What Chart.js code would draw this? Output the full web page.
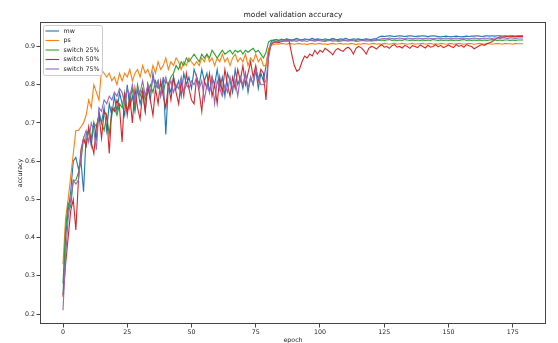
<!DOCTYPE html>
<html>
<head>
<meta charset="utf-8">
<title>model validation accuracy</title>
<script src="https://cdn.jsdelivr.net/npm/chart.js@4/dist/chart.umd.min.js"></script>
<style>
    html, body { margin: 0; padding: 0; background: #fff; }
    #wrap { width: 558px; height: 343px; }
</style>
</head>
<body>
<div id="wrap"><canvas id="accChart" width="558" height="343"></canvas></div>
<script>
// Data
const epochs = Array.from({ length: 180 }, (_, i) => i);

const seriesLabels = ['mw', 'ps', 'switch 25%', 'switch 50%', 'switch 75%'];

const xTicks = [0, 25, 50, 75, 100, 125, 150, 175];
const yTicks = [0.2, 0.3, 0.4, 0.5, 0.6, 0.7, 0.8, 0.9];

const mwAcc = [
    .25, .40, .47, .52, .60, .61, .58, .60, .52, .67,
    .68, .64, .70, .66, .73, .70, .74, .68, .75, .72,
    .77, .73, .78, .75, .72, .80, .74, .77, .73, .79,
    .75, .78, .73, .80, .76, .83, .79, .81, .77, .82,
    .67, .80, .78, .82, .79, .81, .77, .83, .80, .82,
    .79, .84, .82, .80, .84, .81, .83, .78, .82, .80,
    .84, .79, .82, .77, .83, .81, .78, .84, .80, .82,
    .79, .83, .78, .82, .80, .84, .79, .83, .81, .85,
    .89, .912, .916, .918, .915, .919, .917, .920, .918, .916,
    .919, .921, .918, .917, .920, .918, .919, .921, .918, .920,
    .919, .917, .920, .918, .919, .921, .919, .918, .920, .919,
    .921, .919, .918, .920, .919, .920, .918, .919, .920, .919,
    .918, .920, .921, .925, .927, .926, .927, .928, .927, .926,
    .927, .928, .927, .926, .927, .928, .927, .926, .927, .927,
    .928, .927, .926, .927, .928, .927, .926, .925, .926, .927,
    .926, .925, .926, .927, .926, .925, .926, .927, .926, .927,
    .927, .928, .927, .926, .927, .928, .927, .928, .927, .928,
    .928, .927, .928, .927, .928, .928, .927, .928, .928, .928
];

const psAcc = [
    .33, .45, .50, .56, .62, .68, .68, .69, .70, .72,
    .76, .74, .80, .78, .76, .84, .83, .82, .83, .81,
    .82, .80, .83, .81, .83, .82, .84, .81, .83, .84,
    .82, .85, .83, .84, .82, .85, .83, .86, .84, .85,
    .87, .84, .86, .85, .87, .86, .84, .86, .85, .87,
    .86, .85, .86, .85, .87, .86, .88, .86, .87, .85,
    .87, .86, .88, .86, .87, .85, .87, .88, .86, .87,
    .86, .88, .85, .87, .86, .88, .86, .87, .85, .85,
    .895, .903, .905, .907, .906, .908, .907, .906, .908, .907,
    .906, .907, .908, .906, .907, .905, .907, .908, .906, .907,
    .908, .906, .907, .905, .907, .908, .906, .907, .908, .906,
    .907, .906, .908, .907, .905, .907, .906, .908, .907, .906,
    .907, .908, .906, .907, .906, .908, .907, .906, .907, .908,
    .906, .907, .908, .907, .906, .907, .908, .906, .907, .907,
    .908, .906, .907, .908, .906, .907, .906, .908, .907, .906,
    .907, .908, .906, .907, .908, .907, .906, .907, .908, .907,
    .906, .907, .908, .907, .906, .908, .907, .906, .907, .908,
    .907, .906, .908, .907, .907, .906, .908, .907, .907, .907
];

const switch25Acc = [
    .28, .42, .49, .48, .55, .55, .57, .60, .66, .64,
    .68, .66, .70, .69, .72, .70, .68, .72, .67, .73,
    .74, .72, .75, .74, .78, .73, .76, .79, .74, .80,
    .77, .79, .76, .78, .80, .78, .81, .79, .80, .78,
    .81, .80, .82, .83, .85, .84, .86, .85, .87, .86,
    .87, .88, .87, .86, .88, .87, .88, .87, .89, .88,
    .87, .88, .89, .88, .885, .89, .88, .89, .885, .89,
    .88, .89, .885, .89, .895, .885, .89, .88, .87, .885,
    .912, .916, .917, .918, .916, .918, .917, .919, .918, .917,
    .918, .917, .916, .918, .917, .919, .918, .916, .917, .918,
    .917, .918, .916, .917, .919, .917, .918, .916, .917, .918,
    .916, .917, .918, .917, .916, .918, .917, .916, .918, .917,
    .916, .917, .918, .916, .917, .916, .917, .918, .916, .917,
    .916, .917, .916, .918, .917, .916, .917, .916, .917, .916,
    .917, .916, .917, .916, .918, .917, .916, .917, .916, .917,
    .916, .917, .916, .917, .916, .917, .918, .916, .917, .916,
    .917, .916, .917, .916, .917, .916, .917, .918, .917, .916,
    .917, .916, .917, .917, .916, .917, .916, .917, .917, .917
];

const switch50Acc = [
    .245, .33, .40, .47, .50, .42, .55, .63, .66, .64,
    .69, .65, .62, .69, .72, .66, .73, .72, .62, .74,
    .73, .76, .74, .65, .78, .72, .77, .70, .79, .74,
    .71, .78, .73, .80, .76, .72, .79, .75, .81, .77,
    .74, .80, .76, .82, .78, .75, .81, .77, .83, .79,
    .76, .75, .82, .78, .73, .81, .79, .83, .77, .80,
    .75, .82, .78, .84, .80, .77, .82, .79, .84, .81,
    .85, .80, .83, .86, .82, .85, .81, .84, .83, .76,
    .88, .905, .91, .912, .91, .913, .915, .914, .915, .88,
    .85, .835, .84, .86, .875, .87, .88, .875, .89, .88,
    .89, .885, .895, .89, .885, .878, .89, .895, .89, .887,
    .895, .898, .892, .88, .895, .90, .897, .89, .88, .895,
    .90, .898, .893, .90, .905, .898, .90, .895, .902, .905,
    .898, .90, .896, .903, .90, .895, .902, .90, .897, .904,
    .90, .896, .903, .898, .90, .905, .899, .903, .897, .90,
    .904, .90, .897, .905, .90, .903, .898, .905, .902, .90,
    .894, .898, .902, .905, .903, .907, .91, .912, .918, .922,
    .925, .924, .925, .926, .925, .926, .925, .926, .926, .926
];

const switch75Acc = [
    .21, .35, .45, .50, .55, .54, .55, .62, .66, .68,
    .65, .70, .68, .63, .74, .73, .76, .75, .77, .76,
    .78, .77, .79, .78, .75, .79, .77, .80, .76, .79,
    .78, .81, .77, .80, .78, .82, .79, .81, .77, .80,
    .82, .79, .81, .78, .80, .79, .82, .78, .80, .79,
    .81, .80, .82, .79, .81, .76, .80, .78, .82, .75,
    .81, .79, .77, .80, .78, .82, .79, .81, .77, .82,
    .80, .83, .79, .82, .80, .84, .82, .80, .80, .81,
    .87, .908, .912, .914, .913, .915, .914, .916, .915, .914,
    .915, .913, .916, .914, .915, .913, .916, .915, .914, .916,
    .915, .914, .913, .915, .916, .914, .915, .913, .914, .916,
    .915, .914, .916, .915, .913, .914, .915, .916, .914, .915,
    .914, .916, .915, .918, .920, .921, .920, .922, .921, .920,
    .921, .922, .921, .920, .922, .921, .920, .921, .922, .921,
    .920, .921, .922, .921, .920, .921, .922, .920, .921, .922,
    .921, .920, .921, .922, .921, .920, .922, .921, .920, .921,
    .922, .921, .920, .921, .922, .921, .922, .921, .922, .922,
    .921, .922, .922, .921, .922, .922, .921, .922, .922, .922
];

// Styles
const lineColors = ['#1f77b4', '#ff7f0e', '#2ca02c', '#d62728', '#9467bd'];
const fontFamily = '"DejaVu Sans", sans-serif';
const textColor = '#222';
const frameColor = '#444';


// Frame, title, axis labels and legend drawn like matplotlib
const decorPlugin = {
    id: 'decor',
    afterDatasetsDraw(chart) {
        const ctx = chart.ctx;
        const a = chart.chartArea;
        const cx = (a.left + a.right) / 2;

        ctx.save();

        // frame
        ctx.strokeStyle = frameColor;
        ctx.lineWidth = 1;
        ctx.strokeRect(a.left + 0.5, a.top + 0.5, a.right - a.left - 1, a.bottom - a.top - 1);

        // title
        ctx.fillStyle = textColor;
        ctx.textAlign = 'center';
        ctx.textBaseline = 'middle';
        ctx.font = '7.5px ' + fontFamily;
        ctx.fillText('model validation accuracy', cx, 15.5);

        // axis labels
        ctx.font = '6.3px ' + fontFamily;
        ctx.fillText('epoch', cx, 340);
        ctx.save();
        ctx.translate(20, (a.top + a.bottom) / 2);
        ctx.rotate(-Math.PI / 2);
        ctx.fillText('accuracy', 0, 0);
        ctx.restore();

        // legend
        const lx = a.left + 3, ly = a.top + 3;
        ctx.beginPath();
        ctx.roundRect(lx + 0.5, ly + 0.5, 59, 50, 2);
        ctx.fillStyle = 'rgba(255,255,255,0.8)';
        ctx.fill();
        ctx.strokeStyle = '#ccc';
        ctx.stroke();

        ctx.textAlign = 'left';
        seriesLabels.forEach((label, i) => {
            const y = ly + 6 + i * 9.5;
            ctx.strokeStyle = lineColors[i];
            ctx.lineWidth = 1.1;
            ctx.beginPath();
            ctx.moveTo(lx + 2.5, y);
            ctx.lineTo(lx + 16, y);
            ctx.stroke();
            ctx.fillStyle = textColor;
            ctx.fillText(label, lx + 20.5, y + 0.3);
        });

        ctx.restore();
    }
};


const allSeries = [mwAcc, psAcc, switch25Acc, switch50Acc, switch75Acc];

const datasets = allSeries.map((values, i) => ({
    label: seriesLabels[i],
    data: values.map((v, k) => ({ x: epochs[k], y: v })),
    borderColor: lineColors[i],
    borderWidth: 1.1,
    pointRadius: 0,
    tension: 0,
    fill: false,
    order: allSeries.length - i
}));

const tickFont = { family: fontFamily, size: 6.3 };

new Chart(document.getElementById('accChart').getContext('2d'), {
    type: 'line',

    data: { datasets: datasets },

    options: {
        responsive: false,
        animation: false,
        devicePixelRatio: 1,

        layout: {
            padding: { left: 0, right: 12, top: 22, bottom: 0 }
        },

        plugins: {
            legend: { display: false },
            title: { display: false },
            tooltip: { enabled: false }
        },

        scales: {
            x: {
                type: 'linear',
                min: -8.95,
                max: 187.95,
                afterBuildTicks: s => { s.ticks = xTicks.map(v => ({ value: v })); },
                afterFit: s => { s.height = 19; },
                ticks: {
                    font: tickFont,
                    color: textColor,
                    padding: 1.5,
                    maxRotation: 0,
                    autoSkip: false,
                    callback: v => String(v)
                },
                grid: { drawOnChartArea: false, tickLength: 3.5, color: frameColor },
                border: { display: false }
            },
            y: {
                type: 'linear',
                min: 0.174,
                max: 0.964,
                afterBuildTicks: s => { s.ticks = yTicks.map(v => ({ value: v })); },
                afterFit: s => { s.width = 40; },
                ticks: {
                    font: tickFont,
                    color: textColor,
                    padding: 1.5,
                    autoSkip: false,
                    callback: v => v.toFixed(1)
                },
                grid: { drawOnChartArea: false, tickLength: 3.5, color: frameColor },
                border: { display: false }
            }
        }
    },

    plugins: [decorPlugin]
});
</script>
</body>
</html>
